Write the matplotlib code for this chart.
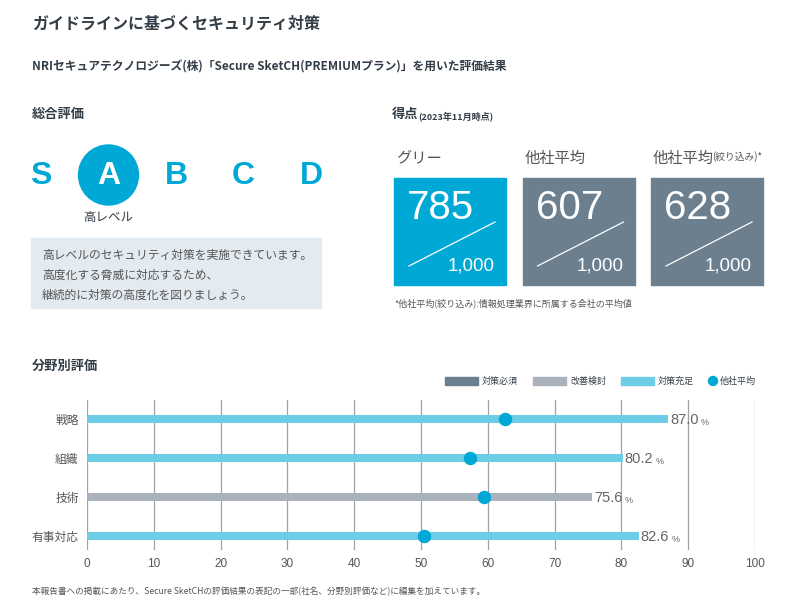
import matplotlib
matplotlib.use("Agg")
import matplotlib.pyplot as plt
from matplotlib.patches import Rectangle, Circle

plt.rcParams["font.family"] = ["Noto Sans CJK JP"]

# data
grades = ["S", "A", "B", "C", "D"]
current_grade = "A"
score_titles = ["グリー", "他社平均", "他社平均"]
scores = [785, 607, 628]
categories = ["戦略", "組織", "技術", "有事対応"]
values = [87.0, 80.2, 75.6, 82.6]
others_avg = [62.5, 57.3, 59.5, 50.5]
bar_kinds = ["充足", "充足", "改善", "充足"]
xticks = [0, 10, 20, 30, 40, 50, 60, 70, 80, 90, 100]

CYAN = "#00a8d6"
LIGHT = "#6dcde6"
GRAY = "#aab3bb"
DARK = "#6b7f8f"
TXT = "#333d47"
NUM = "Liberation Sans"
kind_color = {"必須": DARK, "改善": GRAY, "充足": LIGHT}

W, H = 800, 615
fig = plt.figure(figsize=(8, 6.15), dpi=100)


def T(x, y, s, **kw):
    kw.setdefault("color", TXT)
    fig.text(x / W, 1 - y / H, s, **kw)


def R(x, y, w, h, c):
    fig.patches.append(Rectangle((x / W, 1 - (y + h) / H), w / W, h / H,
                                 transform=fig.transFigure, color=c, zorder=0))


def dot(x, y, r, c):
    p = Circle((x / 100, (H - y) / 100), r, transform=fig.dpi_scale_trans, color=c, zorder=1)
    fig.patches.append(p)


T(32, 24, "ガイドラインに基づくセキュリティ対策", fontsize=11.5, weight="bold", va="center")
T(32, 67, "NRIセキュアテクノロジーズ(株)「Secure SketCH(PREMIUMプラン)」を用いた評価結果",
  fontsize=8.5, weight="bold", va="center")
T(32, 114, "総合評価", fontsize=9.5, weight="bold", va="center")
T(392, 114, "得点", fontsize=9.5, weight="bold", va="center")
T(418, 116, "(2023年11月時点)", fontsize=6.5, weight="bold", va="center")

# grades
for i, g in enumerate(grades):
    x = 41 + i * 67.5
    if g == current_grade:
        dot(x, 175, 0.30, CYAN)
        T(x, 176, g, fontsize=23, color="white", ha="center", va="center", family=NUM, weight="bold")
        T(x, 218, "高レベル", fontsize=9, ha="center", va="center")
    else:
        T(x, 176, g, fontsize=23, color=CYAN, ha="center", va="center", family=NUM, weight="bold")

R(31, 238, 290, 70, "#e3eaf0")
T(42, 255, "高レベルのセキュリティ対策を実施できています。", fontsize=8.5, va="center", color="#555")
T(42, 275, "高度化する脅威に対応するため、", fontsize=8.5, va="center", color="#555")
T(42, 295, "継続的に対策の高度化を図りましょう。", fontsize=8.5, va="center", color="#555")

# score boxes
for i, (t, s) in enumerate(zip(score_titles, scores)):
    x0 = 394 + i * 128.5
    T(x0 + 2, 158, t, fontsize=11, va="center", color="#555")
    R(x0, 178, 112, 107, CYAN if i == 0 else DARK)
    T(x0 + 13, 208, str(s), fontsize=29, color="white", va="center", family=NUM)
    fig.lines.append(plt.Line2D([(x0 + 15) / W, (x0 + 101) / W],
                                [1 - 266 / H, 1 - 222 / H], transform=fig.transFigure,
                                color="white", lw=0.9))
    T(x0 + 101, 266, "1,000", fontsize=13.5, color="white", ha="right", va="center", family=NUM)
T(395 + 2 * 128.5 + 60, 157, "(絞り込み)*", fontsize=7, va="center", color="#555")
T(394, 303, "*他社平均(絞り込み):情報処理業界に所属する会社の平均値", fontsize=6.5,
  va="center", color="#555")

T(32, 366, "分野別評価", fontsize=9.5, weight="bold", va="center")

# legend
for lx, lab, c in [(445, "対策必須", DARK), (533, "改善検討", GRAY), (621, "対策充足", LIGHT)]:
    R(lx, 377, 33, 8, c)
    T(lx + 37, 381, lab, fontsize=6.5, va="center")
dot(713, 381, 0.045, CYAN)
T(720, 381, "他社平均", fontsize=6.5, va="center")

# bar chart
ax = fig.add_axes([87 / W, 1 - 550 / H, 668 / W, 150 / H])
ypos = list(range(len(categories)))
ax.barh(ypos, values, height=0.2, color=[kind_color[k] for k in bar_kinds], zorder=2)
ax.scatter(others_avg, ypos, s=75, color=CYAN, zorder=3)
for y, v in zip(ypos, values):
    ax.text(v + 0.3, y + 0.03, f"{v:.1f}", fontsize=10.5, color="#666", va="center", family=NUM)
    ax.text(v + 4.9, y + 0.08, "%", fontsize=6.5, color="#666", va="center", family=NUM)
ax.set_xlim(0, 100)
ax.set_ylim(3.36, -0.49)
ax.set_xticks(xticks)
ax.set_yticks(ypos)
ax.set_yticklabels(categories)
ax.tick_params(length=0, labelsize=8.5, colors="#555", pad=6)
for lab in ax.get_xticklabels():
    lab.set_family(NUM)
ax.grid(axis="x", color="#9aa3ab", lw=0.9, zorder=0)
for sp in ax.spines.values():
    sp.set_visible(False)

T(32, 592, "本報告書への掲載にあたり、Secure SketCHの評価結果の表記の一部(社名、分野別評価など)に編集を加えています。",
  fontsize=6.2, va="center", color="#555")

fig.savefig("out.png", dpi=100)
